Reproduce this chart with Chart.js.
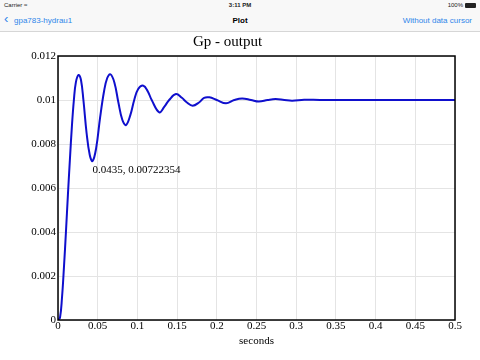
<!DOCTYPE html>
<html>
<head>
<meta charset="utf-8">
<script src="https://cdn.jsdelivr.net/npm/chart.js@4"></script>
<style>
    html, body { margin: 0; padding: 0; background: #fff; }
    #page { position: relative; width: 480px; height: 360px; overflow: hidden; font-family: "Liberation Sans", Arial, sans-serif; }
    #chart { position: absolute; left: 0; top: 0; }
    .bar { position: absolute; left: 0; width: 480px; }
    #status { top: 0; height: 11px; background: #f8f8f8; font-size: 6px; color: #222; }
    #nav { top: 11px; height: 20px; background: #f8f8f8; border-bottom: 1px solid #d6d6d6; font-size: 8px; }
    .s { position: absolute; top: 2px; }
    .n { position: absolute; top: 5px; }
    .blue { color: #2f86ea; }
</style>
</head>
<body>
<div id="page">
    <canvas id="chart" width="480" height="360"></canvas>
    <div class="bar" id="status">
        <span class="s" style="left:4px">Carrier &#8776;</span>
        <span class="s" style="left:0;width:480px;text-align:center;font-weight:bold">3:11 PM</span>
        <span class="s" style="right:17px">100%</span>
        <span class="s" style="right:4px;top:3px;width:11px;height:5px;background:#222;border-radius:1px"></span>
    </div>
    <div class="bar" id="nav">
        <span class="n blue" style="left:4px;font-size:13px;top:0px">&#8249;</span>
        <span class="n blue" style="left:14px">gpa783-hydrau1</span>
        <span class="n" style="left:0;width:480px;text-align:center;font-weight:bold">Plot</span>
        <span class="n blue" style="right:8px">Without data cursor</span>
    </div>
</div>
<script>
    // values
    const timeValues = [
        0, 0.0025, 0.005, 0.0075, 0.01, 0.0125, 0.015, 0.0175, 0.02, 0.0225,
        0.026, 0.029, 0.032, 0.036, 0.04, 0.0435, 0.048, 0.053, 0.058, 0.062,
        0.066, 0.071, 0.076, 0.081, 0.0856, 0.091, 0.096, 0.101, 0.1075, 0.113,
        0.118, 0.1276, 0.134, 0.14, 0.1486, 0.156, 0.162, 0.1696, 0.178, 0.184,
        0.1906, 0.2, 0.2116, 0.222, 0.232, 0.243, 0.253, 0.264, 0.274, 0.285,
        0.295, 0.31, 0.33, 0.36, 0.4, 0.45, 0.5
    ];
    const outputValues = [
        0, 0.0001, 0.0010, 0.0024, 0.0040, 0.0057, 0.0073, 0.0088, 0.0100, 0.0108,
        0.01114, 0.0109, 0.0100, 0.0085, 0.0075, 0.00722354, 0.0078, 0.0092, 0.0104, 0.0110,
        0.01117, 0.0108, 0.0099, 0.0091, 0.00886, 0.0093, 0.0100, 0.0105, 0.01065, 0.0104,
        0.0100, 0.00944, 0.0097, 0.0100, 0.01027, 0.0101, 0.0099, 0.00974, 0.0099, 0.0101,
        0.01012, 0.0100, 0.00985, 0.0100, 0.01007, 0.0100, 0.00993, 0.0100, 0.01004, 0.0100,
        0.00997, 0.01001, 0.0100, 0.0100, 0.0100, 0.0100, 0.0100
    ];
    const xTicks = [0, 0.05, 0.1, 0.15, 0.2, 0.25, 0.3, 0.35, 0.4, 0.45, 0.5];
    const yTicks = [0, 0.002, 0.004, 0.006, 0.008, 0.01, 0.012];
    const cursorPoint = [0.0435, 0.00722354];

    const serif = '"Liberation Serif", "Times New Roman", serif';

    const frame = {
        id: 'frame',
        afterDraw(chart) {
            const { ctx, chartArea: a, scales } = chart;
            ctx.save();
            ctx.strokeStyle = '#000';
            ctx.lineWidth = 1.5;
            ctx.strokeRect(a.left, a.top, a.right - a.left, a.bottom - a.top);
            ctx.fillStyle = '#000';
            ctx.font = '11px ' + serif;
            ctx.textBaseline = 'top';
            const px = scales.x.getPixelForValue(cursorPoint[0]);
            const py = scales.y.getPixelForValue(cursorPoint[1]);
            ctx.fillText(cursorPoint[0] + ', ' + cursorPoint[1], px, py + 4);
            ctx.restore();
        },
    };

    new Chart(document.getElementById('chart'), {
        type: 'line',
        data: {
            datasets: [
                {
                    data: timeValues.map((t, i) => ({ x: t, y: outputValues[i] })),
                    borderColor: 'rgb(15, 15, 205)',
                    borderWidth: 2,
                    pointRadius: 0,
                    tension: 0.4,
                    fill: false,
                },
            ],
        },
        options: {
            responsive: false,
            animation: false,
            layout: { padding: { left: 0, right: 25, top: 0, bottom: 0 } },
            plugins: {
                legend: { display: false },
                tooltip: { enabled: false },
                title: {
                    display: true,
                    text: 'Gp - output',
                    color: '#000',
                    font: { family: serif, size: 15, weight: 'normal' },
                    padding: { top: 33, bottom: 5 },
                },
            },
            scales: {
                x: {
                    type: 'linear',
                    min: 0,
                    max: 0.5,
                    afterBuildTicks: s => { s.ticks = xTicks.map(v => ({ value: v })); },
                    afterFit: s => { s.height = 40; },
                    ticks: {
                        callback: v => String(v),
                        color: '#000',
                        padding: 0,
                        maxRotation: 0,
                        autoSkip: false,
                        font: { family: serif, size: 11 },
                    },
                    grid: { color: '#e4e4e4', drawTicks: false },
                    border: { display: false },
                    title: {
                        display: true,
                        text: 'seconds',
                        color: '#000',
                        font: { family: serif, size: 11 },
                        padding: { top: 0, bottom: 12 },
                    },
                },
                y: {
                    min: 0,
                    max: 0.012,
                    afterBuildTicks: s => { s.ticks = yTicks.map(v => ({ value: v })); },
                    afterFit: s => { s.width = 58; },
                    ticks: {
                        callback: v => String(v),
                        color: '#000',
                        padding: 2,
                        font: { family: serif, size: 11 },
                    },
                    grid: { color: '#e4e4e4', drawTicks: false },
                    border: { display: false },
                },
            },
        },
        plugins: [frame],
    });
</script>
</body>
</html>
